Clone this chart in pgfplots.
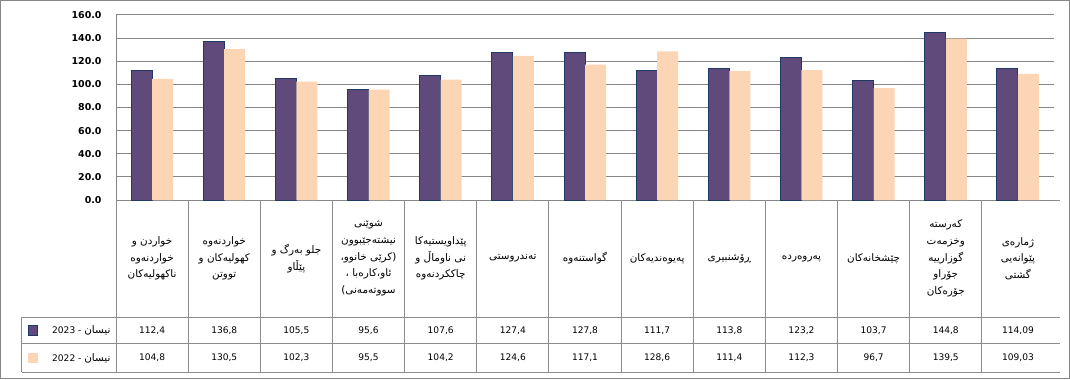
\documentclass[border=0pt]{standalone}
\usepackage{pgfplots}
\pgfplotsset{compat=1.18}
\usepackage{pgfplotstable}
\usepackage{fontspec}
\setmainfont{DejaVu Sans}
\newfontfamily\arabicfont[Script=Arabic]{DejaVu Sans}
\TeXXeTstate=1
\definecolor{c23}{HTML}{604A7B}
\definecolor{b23}{HTML}{1F3864}
\definecolor{c22}{HTML}{FCD5B5}
\definecolor{gridc}{HTML}{868686}
\definecolor{tablec}{HTML}{8C8C8C}

\pgfplotstableread{
x  v23     v22     t23     t22     r23     r22
1  112.4   104.8   112,4   104,8   -112.9  -136.7
2  136.8   130.5   136,8   130,5   -112.9  -136.7
3  105.5   102.3   105,5   102,3   -112.9  -136.7
4  95.6    95.5    95,6    95,5    -112.9  -136.7
5  107.6   104.2   107,6   104,2   -112.9  -136.7
6  127.4   124.6   127,4   124,6   -112.9  -136.7
7  127.8   117.1   127,8   117,1   -112.9  -136.7
8  111.7   128.6   111,7   128,6   -112.9  -136.7
9  113.8   111.4   113,8   111,4   -112.9  -136.7
10 123.2   112.3   123,2   112,3   -112.9  -136.7
11 103.7   96.7    103,7   96,7    -112.9  -136.7
12 144.8   139.5   144,8   139,5   -112.9  -136.7
13 114.09  109.03  114,09  109,03  -112.9  -136.7
}\data

\begin{document}
\begin{tikzpicture}
\useasboundingbox (0,0) rectangle (802.5pt,284.25pt);
\draw[gridc, line width=0.75pt] (0.375pt,0.375pt) rectangle (802.125pt,283.875pt);
\begin{axis}[
  at={(87pt,134.25pt)}, anchor=south west,
  scale only axis, width=703.5pt, height=138.75pt,
  xmin=0.5, xmax=13.5, ymin=0, ymax=160,
  ytick={0,20,...,160},
  xtick={1,...,13},
  xticklabels={
    {\arabicfont\beginR خواردن و\endR\\\beginR خواردنەوە\endR\\\beginR ناکهولیەکان\endR},
    {\arabicfont\beginR خواردنەوە\endR\\\beginR کهولیەکان و\endR\\\beginR تووتن\endR},
    {\arabicfont\beginR جلو بەرگ و\endR\\\beginR پێڵاو\endR},
    {\arabicfont\beginR شوێنی\endR\\\beginR نیشتەجێبوون\endR\\\beginR (کرێی خانوو،\endR\\\beginR ئاو،کارەبا ،\endR\\\beginR سووتەمەنی)\endR},
    {\arabicfont\beginR پێداویستیەکا\endR\\\beginR نی ناوماڵ و\endR\\\beginR چاککردنەوە\endR},
    {\arabicfont\beginR تەندروستی\endR},
    {\arabicfont\beginR گواستنەوە\endR},
    {\arabicfont\beginR پەیوەندیەکان\endR},
    {\arabicfont\beginR ڕۆشنبیری\endR},
    {\arabicfont\beginR پەروەردە\endR},
    {\arabicfont\beginR چێشخانەکان\endR},
    {\arabicfont\beginR کەرستە\endR\\\beginR وخزمەت\endR\\\beginR گوزارییە\endR\\\beginR جۆراو\endR\\\beginR جۆرەکان\endR},
    {\arabicfont\beginR ژمارەی\endR\\\beginR پێوانەیی\endR\\\beginR گشتی\endR}
  },
  xticklabel style={anchor=center, yshift=-43.9pt, align=center, font=\arabicfont\fontsize{7.8}{12.5}\selectfont},
  yticklabel style={font=\bfseries\fontsize{7.1}{8}\selectfont, xshift=-7.3pt},
  /pgf/number format/.cd, fixed, fixed zerofill, precision=1, assume math mode=true, /pgfplots/.cd,
  ymajorgrids, grid style={gridc, line width=0.75pt},
  axis x line*=bottom, axis y line*=left,
  axis line style={gridc, line width=0.75pt},
  major tick length=0pt,
  clip=false,
]
\addplot[ybar, bar width=15.75pt, bar shift=-7.875pt, fill=c23, draw=b23, line width=0.75pt] table[x=x,y=v23]{\data};
\addplot[ybar, bar width=15.75pt, bar shift=7.875pt, fill=c22, draw=none] table[x=x,y=v22]{\data};
\addplot[draw=none, mark=none, nodes near coords, point meta=explicit symbolic,
  nodes near coords style={anchor=center, font=\fontsize{6.8}{8}\selectfont}] table[x=x,y=r23,meta=t23]{\data};
\addplot[draw=none, mark=none, nodes near coords, point meta=explicit symbolic,
  nodes near coords style={anchor=center, font=\fontsize{6.8}{8}\selectfont}] table[x=x,y=r22,meta=t22]{\data};
% data table grid
\pgfplotsinvokeforeach{0.5,1.5,2.5,3.5,4.5,5.5,6.5,7.5,8.5,9.5,10.5,11.5,12.5}{
  \draw[tablec, line width=0.75pt] (axis cs:#1,0) -- (axis cs:#1,-148.8);
}
\draw[tablec, line width=0.75pt] (axis cs:-0.803,-101.2) -- (axis cs:-0.803,-148.8);
\draw[tablec, line width=0.75pt] (axis cs:13.5,0) -- (axis cs:13.58,0);
\draw[tablec, line width=0.75pt] (axis cs:-0.803,-101.2) -- (axis cs:13.58,-101.2);
\draw[tablec, line width=0.75pt] (axis cs:-0.803,-124.5) -- (axis cs:13.58,-124.5);
\draw[tablec, line width=0.75pt] (axis cs:-0.803,-148.8) -- (axis cs:13.58,-148.8);
% legend keys
\node[draw=b23, fill=c23, line width=0.6pt, minimum size=7pt, inner sep=0pt] at (axis cs:-0.65,-112.9) {};
\node[draw=none, fill=c22, minimum size=7.5pt, inner sep=0pt] at (axis cs:-0.65,-136.7) {};
\node[anchor=east, inner sep=1pt, font=\fontsize{6.8}{8}\selectfont] at (axis cs:0.445,-112.9) {2023 - {\arabicfont\fontsize{7.8}{8}\selectfont نیسان}};
\node[anchor=east, inner sep=1pt, font=\fontsize{6.8}{8}\selectfont] at (axis cs:0.445,-136.7) {2022 - {\arabicfont\fontsize{7.8}{8}\selectfont نیسان}};
\end{axis}
\end{tikzpicture}
\end{document}
